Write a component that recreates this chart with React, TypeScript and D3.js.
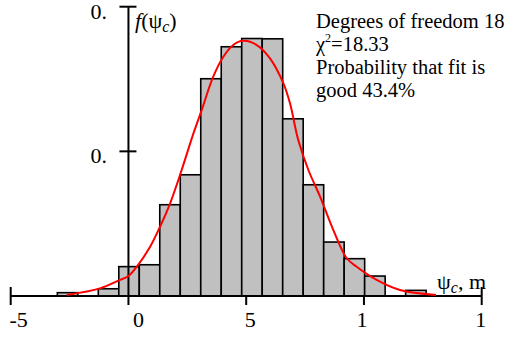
import React from "react";
import * as d3 from "d3";

// ---- data ----
const binStart = -3.02;
const binWidth = 0.87;
const binDensity = [
  0.0023, 0, 0.005, 0.0203, 0.0216, 0.0631, 0.0838, 0.1502, 0.1723,
  0.178, 0.1778, 0.1225, 0.0769, 0.0373, 0.0258, 0.0138, 0, 0.0039,
];
const fitX = [
  -2.62, -1.21, -0.36, 0.0, 0.35, 0.92, 1.34, 1.77, 2.26, 2.76, 3.11, 3.6,
  4.03, 4.45, 4.87, 5.45, 6.01, 6.58, 6.86, 7.21, 7.64, 8.14, 8.7, 9.27,
  9.69, 10.54, 11.53, 13.06,
];
const fitY = [
  0.0007, 0.0053, 0.0111, 0.0138, 0.0202, 0.0341, 0.0479, 0.0641, 0.0871,
  0.1124, 0.1285, 0.1516, 0.1654, 0.1735, 0.1764, 0.1735, 0.1643, 0.147,
  0.1332, 0.1078, 0.0871, 0.0686, 0.0456, 0.0261, 0.0202, 0.0111, 0.0041,
  0.0007,
];
const xTicks = [-5, 0, 5, 10, 15];
const xTickLabels = ["-5", "0", "5", "1", "1"];
const yTicks = [0.1, 0.2];
const yTickLabels = ["0.", "0."];
const infoLines = [
  "Degrees of freedom 18",
  "CHI",
  "Probability that fit is",
  "good 43.4%",
];

// ---- styling ----
const W = 511;
const H = 337;
const FONT = "Liberation Serif, Tinos, Times New Roman, DejaVu Serif, serif";
const xTickDx = [8, 10, 4, -2, -1];

export default function App() {
  const x = d3.scaleLinear().domain([-5, 15]).range([10.7, 481.7]);
  const y = d3.scaleLinear().domain([0, 0.2]).range([296, 6.7]);
  const x0 = x(0);
  const y0 = y(0);

  const line = d3
    .line<number>()
    .x((_, i) => x(fitX[i]))
    .y((d) => y(d))
    .curve(d3.curveCatmullRom);

  const ts = { fontFamily: FONT };

  return (
    <svg
      width={W}
      height={H}
      style={{ position: "absolute", left: 0, top: 0, background: "#fff", fontFamily: FONT }}
    >
      {/* bars */}
      {binDensity.map((d, i) => {
        const xl = x(binStart + i * binWidth);
        const xr = x(binStart + (i + 1) * binWidth);
        return (
          <rect
            key={i}
            x={xl}
            y={y(d)}
            width={xr - xl}
            height={y0 - y(d)}
            fill="#c0c0c0"
            stroke="#000"
            strokeWidth={1.6}
          />
        );
      })}

      {/* x axis */}
      <line x1={x(-5)} x2={x(15)} y1={y0} y2={y0} stroke="#000" strokeWidth={2} />
      {xTicks.map((t, i) => {
        const end = i === 0 || i === xTicks.length - 1;
        return (
          <g key={t}>
            <line
              x1={x(t)}
              x2={x(t)}
              y1={end ? y0 - 9 : y0}
              y2={y0 + 9}
              stroke="#000"
              strokeWidth={2}
            />
            <text
              x={x(t) + xTickDx[i]}
              y={326.5}
              fontSize={22}
              textAnchor="middle"
              fill="#000"
              style={ts}
            >
              {xTickLabels[i]}
            </text>
          </g>
        );
      })}

      {/* y axis */}
      <line x1={x0} x2={x0} y1={y(0.2)} y2={y0} stroke="#000" strokeWidth={2} />
      {yTicks.map((t, i) => (
        <g key={t}>
          <line x1={x0 - 9} x2={x0 + 8} y1={y(t)} y2={y(t)} stroke="#000" strokeWidth={2} />
          <text x={107} y={y(t) + 12} fontSize={22} textAnchor="end" fill="#000" style={ts}>
            {yTickLabels[i]}
          </text>
        </g>
      ))}

      {/* fit curve */}
      <path d={line(fitY) || ""} fill="none" stroke="#ff0000" strokeWidth={2} />

      {/* axis labels */}
      <text x={135} y={28} fontSize={22} fill="#000" style={ts}>
        <tspan fontStyle="italic">f</tspan>
        <tspan>(ψ</tspan>
        <tspan fontStyle="italic" fontSize={16} dy={4}>c</tspan>
        <tspan dy={-4}>)</tspan>
      </text>
      <text x={437} y={289} fontSize={22} fill="#000" style={ts}>
        <tspan>ψ</tspan>
        <tspan fontStyle="italic" fontSize={16} dy={4}>c</tspan>
        <tspan dy={-4}>, m</tspan>
      </text>

      {/* info text */}
      {infoLines.map((s, i) =>
        s === "CHI" ? (
          <text key={i} x={316} y={28 + i * 23} fontSize={20.5} fill="#000" style={ts}>
            <tspan>χ</tspan>
            <tspan fontSize={12} dy={-9}>2</tspan>
            <tspan dy={9}>=18.33</tspan>
          </text>
        ) : (
          <text key={i} x={316} y={28 + i * 23} fontSize={20.5} fill="#000" style={ts}>
            {s}
          </text>
        )
      )}
    </svg>
  );
}
